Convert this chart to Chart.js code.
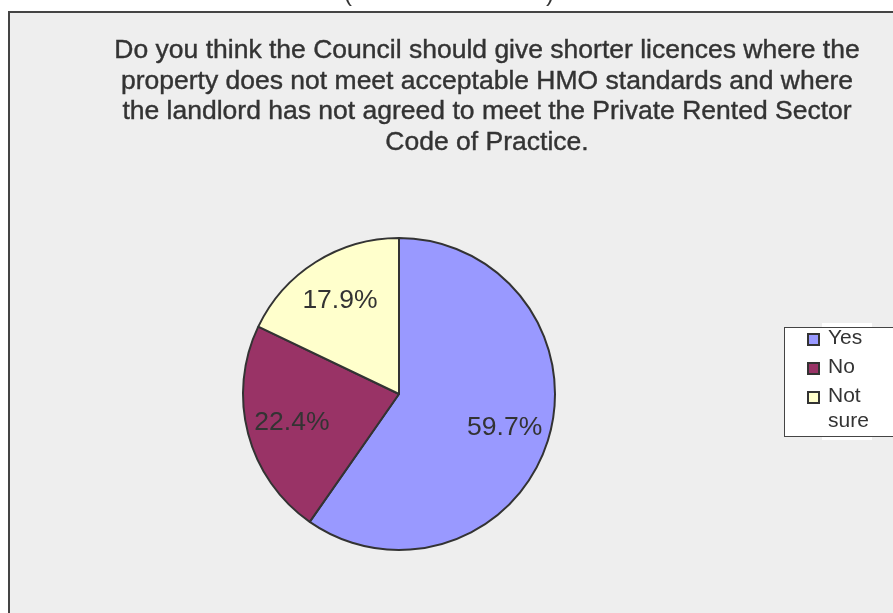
<!DOCTYPE html>
<html>
<head>
<meta charset="utf-8">
<title>Shorter licences survey</title>
<script src="https://cdn.jsdelivr.net/npm/chart.js@4/dist/chart.umd.min.js"></script>
<style>
  html, body { margin: 0; padding: 0; background: #ffffff; }
  #wrap { position: relative; width: 893px; height: 613px; overflow: hidden; }
</style>
</head>
<body>
<div id="wrap"><canvas id="pie" width="893" height="613"></canvas></div>
<script>
// Survey answers and their shares (percent)
const categories = ['Yes', 'No', 'Not sure'];
const shares = [59.7, 22.4, 17.9];
const valueLabels = ['59.7%', '22.4%', '17.9%'];
const legendLines = [['Yes'], ['No'], ['Not', 'sure']];
const sliceColors = ['#9999ff', '#993366', '#ffffcc'];
const titleLines = [
  'Do you think the Council should give shorter licences where the',
  'property does not meet acceptable HMO standards and where',
  'the landlord has not agreed to meet the Private Rented Sector',
  'Code of Practice.'
];

const FONT = '"Liberation Sans", Arial, Helvetica, sans-serif';
const INK = '#333333';

// Grey plot frame, title and the header brackets
const framePlugin = {
  id: 'frame',
  beforeDraw(chart) {
    const ctx = chart.ctx;
    ctx.save();
    ctx.fillStyle = '#ffffff';
    ctx.fillRect(0, 0, chart.width, chart.height);
    ctx.fillStyle = '#eeeeee';
    ctx.fillRect(9, 12, chart.width - 9, chart.height - 12);
    ctx.strokeStyle = '#444444';
    ctx.lineWidth = 2;
    ctx.beginPath();
    ctx.moveTo(9, chart.height);
    ctx.lineTo(9, 12);
    ctx.lineTo(chart.width, 12);
    ctx.stroke();

    ctx.fillStyle = INK;
    ctx.font = '24px ' + FONT;
    ctx.textBaseline = 'alphabetic';
    ctx.textAlign = 'center';
    ctx.fillText('(', 348, 1);
    ctx.fillText(')', 550, 1);

    ctx.font = '26.5px ' + FONT;
    ctx.strokeStyle = INK;
    ctx.lineWidth = 0.4;
    titleLines.forEach((line, i) => {
      const y = 58 + i * 30.7;
      ctx.fillText(line, 487, y);
      ctx.strokeText(line, 487, y);
    });
    ctx.restore();
  }
};

// Percentage labels placed inside each slice
const sliceLabelPlugin = {
  id: 'sliceLabels',
  afterDatasetsDraw(chart) {
    const ctx = chart.ctx;
    const meta = chart.getDatasetMeta(0);
    ctx.save();
    ctx.fillStyle = INK;
    ctx.font = '26.5px ' + FONT;
    ctx.textAlign = 'center';
    ctx.textBaseline = 'middle';
    meta.data.forEach((arc, i) => {
      const p = arc.getProps(['x', 'y', 'startAngle', 'endAngle', 'outerRadius'], true);
      const mid = (p.startAngle + p.endAngle) / 2;
      const r = p.outerRadius * 0.71;
      ctx.fillText(valueLabels[i], p.x + Math.cos(mid) * r, p.y + Math.sin(mid) * r);
    });
    ctx.restore();
  }
};

// Boxed legend at the right edge
const legendPlugin = {
  id: 'boxLegend',
  afterDraw(chart) {
    const ctx = chart.ctx;
    ctx.save();
    ctx.fillStyle = '#ffffff';
    ctx.fillRect(822, 323, 50, 117);
    ctx.fillRect(784, 327, 120, 109);
    ctx.strokeStyle = '#444444';
    ctx.lineWidth = 1;
    ctx.strokeRect(784.5, 327.5, 120, 109);

    ctx.font = '21px ' + FONT;
    ctx.textAlign = 'left';
    ctx.textBaseline = 'middle';
    const rows = [338, 367, 396];
    categories.forEach((c, i) => {
      const y = rows[i];
      ctx.fillStyle = sliceColors[i];
      ctx.fillRect(808, y - 4, 11, 11);
      ctx.strokeStyle = '#333333';
      ctx.lineWidth = 2;
      ctx.strokeRect(808, y - 4, 11, 11);
      ctx.fillStyle = INK;
      legendLines[i].forEach((t, j) => {
        ctx.fillText(t, 828, y + j * 25);
      });
    });
    ctx.restore();
  }
};

new Chart(document.getElementById('pie'), {
  type: 'pie',
  data: {
    labels: categories,
    datasets: [{
      data: shares,
      backgroundColor: sliceColors,
      borderColor: '#333333',
      borderWidth: 2,
      hoverOffset: 0
    }]
  },
  options: {
    responsive: false,
    animation: false,
    events: [],
    layout: { padding: { left: 242, right: 337, top: 237, bottom: 62 } },
    plugins: {
      legend: { display: false },
      title: { display: false },
      tooltip: { enabled: false }
    }
  },
  plugins: [framePlugin, sliceLabelPlugin, legendPlugin]
});
</script>
</body>
</html>
